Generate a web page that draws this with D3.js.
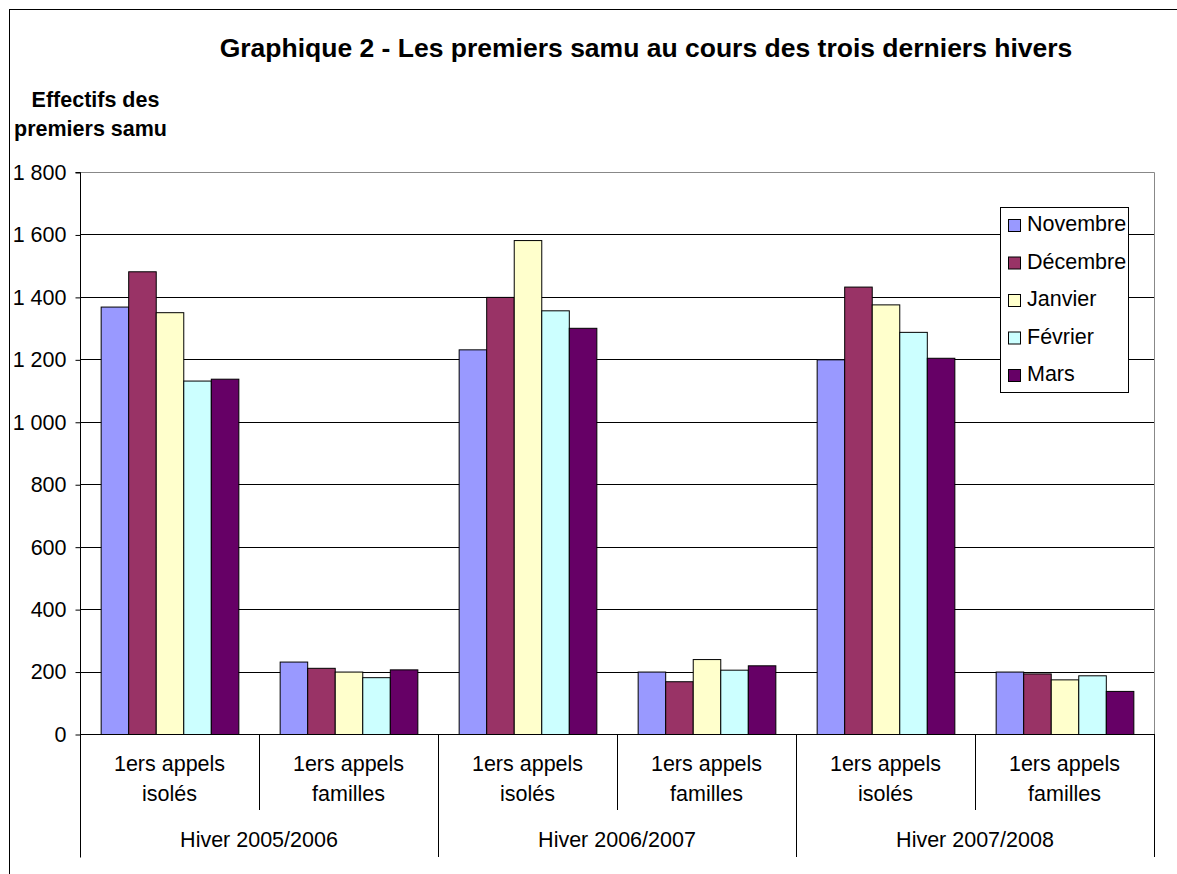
<!DOCTYPE html>
<html>
<head>
<meta charset="utf-8">
<script src="https://cdn.jsdelivr.net/npm/d3@7"></script>
<style>
	body { margin: 0; background: #fff; }
	svg text { font-family: 'Liberation Sans', Arial, sans-serif; fill: #000; }
</style>
</head>
<body>
<div id="container"></div>
<script>
'use strict';
// data
const winters = ['Hiver 2005/2006', 'Hiver 2006/2007', 'Hiver 2007/2008'];
const callTypes = [['1ers appels', 'isolés'], ['1ers appels', 'familles']];
const months = ['Novembre', 'Décembre', 'Janvier', 'Février', 'Mars'];
const novembre = [1369, 232, 1232, 200, 1200, 200];
const decembre = [1482, 212, 1400, 169, 1433, 194];
const janvier = [1351, 200, 1582, 240, 1376, 175];
const fevrier = [1132, 182, 1357, 206, 1288, 188];
const mars = [1138, 207, 1301, 220, 1205, 138];
const yTicks = [0, 200, 400, 600, 800, 1000, 1200, 1400, 1600, 1800];

const series = [novembre, decembre, janvier, fevrier, mars];
const colors = ['#9999ff', '#993366', '#ffffcc', '#ccffff', '#660066'];

let options = {
	width: 1177,
	height: 874,
	left: 80,
	right: 1154,
	top: 172,
	bottom: 734,
	font: '21.5px'
};

let svg = d3.select('#container')
	.append('svg')
	.attr('width', options.width)
	.attr('height', options.height);

// outer frame (left and top only visible)
svg.append('rect')
	.attr('x', 9.5).attr('y', 9.5)
	.attr('width', 1300).attr('height', 1000)
	.attr('fill', 'none').attr('stroke', '#000');

// categories: winter x call type
let cats = [];
winters.forEach((w, wi) => callTypes.forEach((c, ci) => cats.push(wi * callTypes.length + ci)));

let x0 = d3.scaleBand().domain(cats).range([options.left, options.right]);
let x1 = d3.scaleBand().domain(d3.range(months.length)).range([0, x0.bandwidth()]).paddingOuter(0.75);
let y = d3.scaleLinear().domain([0, 1800]).range([options.bottom, options.top]);

// gridlines
svg.append('g')
	.selectAll('line')
	.data(yTicks.filter(d => d > 0 && d < 1800))
	.enter()
	.append('line')
	.attr('x1', options.left).attr('x2', options.right)
	.attr('y1', d => Math.round(y(d)) + 0.5).attr('y2', d => Math.round(y(d)) + 0.5)
	.attr('stroke', '#000');

// plot frame top/right (grey)
svg.append('path')
	.attr('d', `M${options.left},${options.top + 0.5}H${options.right + 0.5}V${options.bottom}`)
	.attr('fill', 'none')
	.attr('stroke', '#888');

// bars
let groups = svg.append('g')
	.selectAll('g')
	.data(cats)
	.enter()
	.append('g')
	.attr('transform', d => `translate(${x0(d)},0)`);

groups.selectAll('rect')
	.data(c => series.map((s, i) => ({ i: i, v: s[c] })))
	.enter()
	.append('rect')
	.attr('x', d => x1(d.i) + 0.5)
	.attr('width', x1.bandwidth())
	.attr('y', d => y(d.v) + 0.5)
	.attr('height', d => y(0) - y(d.v))
	.attr('fill', d => colors[d.i])
	.attr('stroke', '#000')
	.attr('stroke-width', 1);

// y axis
let fr = d3.formatLocale({ decimal: ',', thousands: '\u00a0', grouping: [3], currency: ['', '€'] });
let yAxis = svg.append('g')
	.attr('transform', `translate(${options.left + 0.5},0.5)`)
	.call(d3.axisLeft(y).tickValues(yTicks).tickFormat(fr.format(',d')).tickSize(5).tickPadding(9));
yAxis.select('.domain').attr('stroke', '#000').attr('d', `M-5,${y(1800)}H0V${options.bottom + 123}`);
yAxis.selectAll('text').style('font-size', options.font).attr('fill', '#000');

// category axis
svg.append('line')
	.attr('x1', options.left).attr('x2', options.right + 1)
	.attr('y1', options.bottom + 0.5).attr('y2', options.bottom + 0.5)
	.attr('stroke', '#000');

let bounds = d3.range(cats.length + 1);
svg.append('g')
	.selectAll('line')
	.data(bounds)
	.enter()
	.append('line')
	.attr('x1', d => Math.round(options.left + d * x0.step()) + 0.5)
	.attr('x2', d => Math.round(options.left + d * x0.step()) + 0.5)
	.attr('y1', options.bottom)
	.attr('y2', d => d % callTypes.length === 0 ? options.bottom + 123 : options.bottom + 76)
	.attr('stroke', '#000');

let catLabels = svg.append('g')
	.selectAll('text')
	.data(cats)
	.enter()
	.append('text')
	.attr('text-anchor', 'middle')
	.style('font-size', options.font)
	.attr('x', d => x0(d) + x0.bandwidth() / 2);
catLabels.append('tspan')
	.attr('y', options.bottom + 37)
	.attr('x', d => x0(d) + x0.bandwidth() / 2)
	.text(d => callTypes[d % callTypes.length][0]);
catLabels.append('tspan')
	.attr('y', options.bottom + 67)
	.attr('x', d => x0(d) + x0.bandwidth() / 2)
	.text(d => callTypes[d % callTypes.length][1]);

svg.append('g')
	.selectAll('text')
	.data(winters)
	.enter()
	.append('text')
	.attr('text-anchor', 'middle')
	.style('font-size', options.font)
	.attr('x', (d, i) => options.left + (i + 0.5) * x0.step() * callTypes.length)
	.attr('y', options.bottom + 113)
	.text(d => d);

// title
svg.append('text')
	.attr('x', 646)
	.attr('y', 57)
	.attr('text-anchor', 'middle')
	.style('font-size', '26.5px')
	.style('font-weight', 'bold')
	.text('Graphique 2 - Les premiers samu au cours des trois derniers hivers');

let yTitle = svg.append('text')
	.attr('text-anchor', 'middle')
	.style('font-size', options.font)
	.style('font-weight', 'bold');
yTitle.append('tspan').attr('x', 95.5).attr('y', 107).text('Effectifs des');
yTitle.append('tspan').attr('x', 90.5).attr('y', 136).text('premiers samu');

// legend
let legend = svg.append('g').attr('transform', 'translate(1000,207)');
legend.append('rect')
	.attr('x', 0.5).attr('y', 0.5)
	.attr('width', 128).attr('height', 185)
	.attr('fill', '#fff').attr('stroke', '#000');
let items = legend.selectAll('g.item')
	.data(months)
	.enter()
	.append('g')
	.attr('class', 'item')
	.attr('transform', (d, i) => `translate(0,${24 + i * 37.5})`);
items.append('rect')
	.attr('x', 8.5).attr('y', -11.5)
	.attr('width', 12).attr('height', 12)
	.attr('fill', (d, i) => colors[i])
	.attr('stroke', '#000');
items.append('text')
	.attr('x', 27)
	.attr('y', 0)
	.style('font-size', options.font)
	.text(d => d);
</script>
</body>
</html>
